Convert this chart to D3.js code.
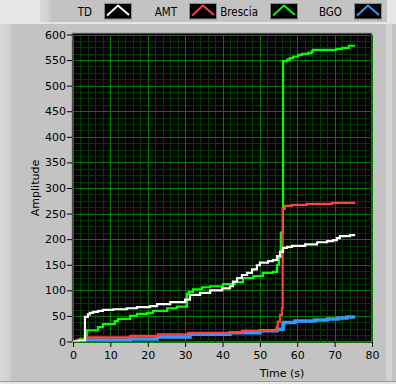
<!DOCTYPE html>
<html>
<head>
<meta charset="utf-8">
<script src="https://cdn.jsdelivr.net/npm/d3@7"></script>
<style>
  body { margin: 0; background: #e6e6e6; }
  text { font-family: "DejaVu Sans", sans-serif; fill: #000; }
</style>
</head>
<body>
<div id="chart"></div>
<script>
// Series data (time in s, amplitude)
var tdTime  = [0, 1.5, 3.2, 4.0, 4.5, 5.4, 6.7, 8.0, 10.7, 14.4, 17.1, 20.6, 22.5, 26.0, 30.0, 31.3, 34.0, 36.7, 39.9, 42.0, 42.8, 43.9, 45.2, 46.6, 47.9, 49.2, 50.0, 52.2, 53.5, 54.6, 55.4, 56.2, 57.3, 58.6, 62.1, 65.3, 68.0, 69.6, 70.6, 71.4, 74.1, 75.5];
var tdAmp   = [0, 2, 48, 53, 56, 58, 60, 62, 63, 65, 67, 69, 73, 77, 82, 91, 95, 100, 104, 108, 117, 124, 130, 134, 141, 149, 154, 157, 159, 167, 175, 183, 185, 187, 190, 194, 196, 198, 202, 206, 208, 208];

var amtTime = [0, 1.0, 3.2, 15.3, 22.7, 30.8, 42.0, 45.2, 54.6, 54.8, 55.4, 55.9, 56.1, 56.7, 58.6, 62.6, 69.3, 75.5];
var amtAmp  = [0, 3, 8, 11, 14, 17, 18, 21, 29, 39, 52, 65, 259, 265, 267, 269, 271, 271];

var brTime  = [0, 1.9, 3.7, 6.7, 8.0, 11.2, 12.0, 15.3, 17.1, 19.8, 21.4, 25.2, 27.8, 30.5, 31.0, 32.1, 34.5, 36.7, 40.1, 43.3, 45.5, 48.2, 50.8, 53.5, 54.6, 55.1, 55.6, 56.2, 57.3, 58.0, 58.9, 60.2, 61.3, 62.9, 63.9, 64.2, 70.4, 72.0, 73.8, 75.5];
var brAmp   = [0, 5, 22, 28, 34, 40, 44, 50, 54, 56, 60, 65, 68, 93, 97, 102, 106, 108, 112, 116, 124, 128, 134, 136, 150, 165, 213, 548, 551, 554, 557, 560, 562, 564, 567, 570, 572, 574, 578, 578];

var bgoTime = [0, 1.9, 3.2, 15.3, 22.5, 31.3, 42.0, 50.0, 54.6, 56.2, 56.4, 59.4, 64.7, 68.0, 70.9, 73.3, 75.5];
var bgoAmp  = [0, 1, 3, 5, 9, 14, 17, 21, 24, 35, 37, 40, 42, 44, 46, 48, 48];

var seriesNames  = ["TD", "AMT", "Brescia", "BGO"];
var seriesColors = ["#ffffff", "#ff4040", "#00ff00", "#3399ff"];
var seriesWidths = [2.2, 2.2, 2.2, 3.5];
var xTicks = [0, 10, 20, 30, 40, 50, 60, 70, 80];
var yTicks = [0, 50, 100, 150, 200, 250, 300, 350, 400, 450, 500, 550, 600];

var series = [
  { name: "TD", t: tdTime, v: tdAmp },
  { name: "AMT", t: amtTime, v: amtAmp },
  { name: "Brescia", t: brTime, v: brAmp },
  { name: "BGO", t: bgoTime, v: bgoAmp }
];

var W = 396, H = 384;
var margin = { top: 34.5, left: 73 },
    width = 299,
    height = 307;

var svg = d3.select("#chart").append("svg")
    .attr("width", W)
    .attr("height", H);

var defs = svg.append("defs");
var lg = defs.append("linearGradient").attr("id", "leftEdge");
lg.append("stop").attr("offset", "0%").attr("stop-color", "#d9d9d9");
lg.append("stop").attr("offset", "60%").attr("stop-color", "#d2d2d2");
lg.append("stop").attr("offset", "100%").attr("stop-color", "#c3c3c3");

// panels
svg.append("rect").attr("x", 40).attr("y", 0).attr("width", 347).attr("height", 22).attr("fill", "#c3c3c3");
svg.append("rect").attr("x", 40).attr("y", 0).attr("width", 12).attr("height", 22).attr("fill", "url(#leftEdge)");
svg.append("rect").attr("x", 0).attr("y", 24).attr("width", W).attr("height", 357).attr("fill", "#c3c3c3");
svg.append("rect").attr("x", 0).attr("y", 24).attr("width", 13).attr("height", 357).attr("fill", "url(#leftEdge)");
svg.append("rect").attr("x", 386).attr("y", 24).attr("width", 6).attr("height", 357).attr("fill", "#d3d3d3");
svg.append("rect").attr("x", 0).attr("y", 381).attr("width", W).attr("height", 1).attr("fill", "#9a9a9a");

// scales
var x = d3.scaleLinear().domain([0, 80]).range([margin.left, margin.left + width]);
var y = d3.scaleLinear().domain([0, 600]).range([margin.top + height, margin.top]);

// plot background
svg.append("rect")
    .attr("x", margin.left - 1).attr("y", margin.top - 1.5)
    .attr("width", width + 1).attr("height", height + 2)
    .attr("fill", "#000")
    .attr("stroke", "#9a9a9a").attr("stroke-width", 1);

var grid = svg.append("g").attr("shape-rendering", "crispEdges");

// minor grid
grid.selectAll(".mx").data(d3.range(0, 81, 2)).enter().append("line")
    .attr("x1", d => Math.round(x(d)) + 0.5).attr("x2", d => Math.round(x(d)) + 0.5)
    .attr("y1", y(600)).attr("y2", y(0))
    .attr("stroke", "#003c00");
grid.selectAll(".my").data(d3.range(0, 601, 12.5)).enter().append("line")
    .attr("y1", d => Math.round(y(d)) + 0.5).attr("y2", d => Math.round(y(d)) + 0.5)
    .attr("x1", x(0)).attr("x2", x(80))
    .attr("stroke", "#003c00");
// major grid
grid.selectAll(".Mx").data(xTicks).enter().append("line")
    .attr("x1", d => Math.round(x(d)) + 0.5).attr("x2", d => Math.round(x(d)) + 0.5)
    .attr("y1", y(600)).attr("y2", y(0))
    .attr("stroke", "#007a00");
grid.selectAll(".My").data(yTicks).enter().append("line")
    .attr("y1", d => Math.round(y(d)) + 0.5).attr("y2", d => Math.round(y(d)) + 0.5)
    .attr("x1", x(0)).attr("x2", x(80))
    .attr("stroke", "#007a00");

// axes
var yAxis = svg.append("g")
    .attr("transform", "translate(" + (margin.left - 1) + ",0)")
    .call(d3.axisLeft(y).tickValues(yTicks).tickSize(5).tickPadding(1));
yAxis.select(".domain").remove();
yAxis.selectAll("text").style("font-size", "11px");

var xAxis = svg.append("g")
    .attr("transform", "translate(0," + (margin.top + height + 0.5) + ")")
    .call(d3.axisBottom(x).tickValues(xTicks).tickSize(5).tickPadding(4));
xAxis.select(".domain").remove();
xAxis.selectAll("text").style("font-size", "11px");

svg.append("text")
    .attr("transform", "translate(39," + (margin.top + height / 2) + ") rotate(-90)")
    .attr("text-anchor", "middle")
    .style("font-size", "11px")
    .text("Amplitude");

svg.append("text")
    .attr("x", 282).attr("y", 377)
    .attr("text-anchor", "middle")
    .style("font-size", "11px")
    .text("Time (s)");

// lines
svg.append("clipPath").attr("id", "plotClip").append("rect")
    .attr("x", margin.left).attr("y", margin.top - 1)
    .attr("width", width).attr("height", height + 1);

var line = d3.line()
    .x(d => x(d[0]))
    .y(d => y(d[1]))
    .curve(d3.curveStepAfter);

// draw order: Brescia, BGO, AMT, TD on top
var plot = svg.append("g").attr("clip-path", "url(#plotClip)");
[2, 3, 1, 0].forEach(function(i) {
    var s = series[i];
    plot.append("path")
        .datum(s.t.map((t, k) => [t, s.v[k]]))
        .attr("fill", "none")
        .attr("stroke", seriesColors[i])
        .attr("stroke-width", seriesWidths[i])
        .attr("d", line);
});

// legend
var legX = [92, 177, 258, 342];
var legend = svg.append("g");
seriesNames.forEach(function(name, i) {
    var g = legend.append("g");
    g.append("text")
        .attr("x", legX[i]).attr("y", 15.5)
        .attr("text-anchor", "end")
        .style("font-family", "'DejaVu Sans Condensed', 'DejaVu Sans', sans-serif")
        .style("font-size", "11.5px")
        .text(name);
    var bx = legX[i] + 12;
    g.append("rect")
        .attr("x", bx + 0.5).attr("y", 3.5)
        .attr("width", 27).attr("height", 15.5)
        .attr("fill", "#000")
        .attr("stroke", "#8a8a8a");
    g.append("polyline")
        .attr("points", [[bx + 3, 15.5], [bx + 14, 5.5], [bx + 25, 15]].join(" "))
        .attr("fill", "none")
        .attr("stroke", seriesColors[i])
        .attr("stroke-width", 2);
});
</script>
</body>
</html>
